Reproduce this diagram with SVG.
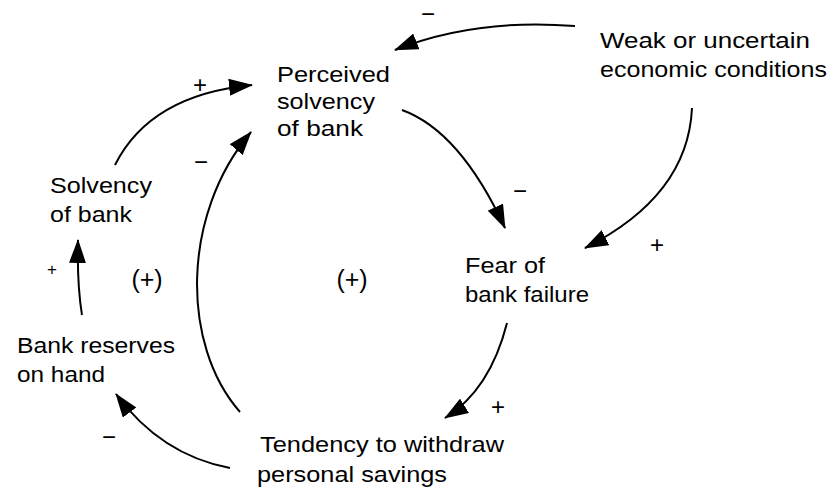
<svg xmlns="http://www.w3.org/2000/svg" width="840" height="490" viewBox="0 0 840 490">
<style>
.t{font-family:"Liberation Sans",Arial,sans-serif;font-size:22px;fill:#000}
.s{font-family:"Liberation Sans",Arial,sans-serif;font-size:24px;fill:#000;text-anchor:middle}
.p{font-family:"Liberation Sans",Arial,sans-serif;font-size:25px;fill:#000;text-anchor:middle}
.c{fill:none;stroke:#000;stroke-width:2;marker-end:url(#ah)}
</style>
<defs>
<marker id="ah" markerUnits="userSpaceOnUse" viewBox="0 0 24 17" refX="23" refY="8.5" markerWidth="24" markerHeight="17" orient="auto">
<path d="M0,0 L24,8.5 L0,17 z" fill="#000"/>
</marker>
</defs>
<rect width="840" height="490" fill="#fff"/>
<g id="connectors">
<path class="c" d="M575,26 Q475,18 395,50"/>
<path class="c" d="M402,110 Q460,131 505,228"/>
<path class="c" d="M692,108 Q688,196 585,248"/>
<path class="c" d="M115,165 Q150,95 252,85"/>
<path class="c" d="M240,412 C181,345 181,215 251,132"/>
<path class="c" d="M82,315 Q77,285 78,240"/>
<path class="c" d="M507,323 Q490,390 445,418"/>
<path class="c" d="M230,468 Q161,455 116,394"/>
</g>
<g id="signs">
<text class="s" x="428" y="22">−</text>
<text class="s" x="520" y="199">−</text>
<text class="s" x="657" y="253">+</text>
<text class="s" x="200" y="93">+</text>
<text class="s" x="201" y="170">−</text>
<text class="s" x="52" y="275" style="font-size:17px">+</text>
<text class="s" x="498" y="415">+</text>
<text class="s" x="109" y="445">−</text>
</g>
<g id="loop-left"><text class="p" x="147" y="288">(+)</text></g>
<g id="loop-right"><text class="p" x="352" y="288">(+)</text></g>
<g id="perceived">
<text class="t" x="277" y="82" textLength="113" lengthAdjust="spacingAndGlyphs">Perceived</text>
<text class="t" x="277" y="109" textLength="98" lengthAdjust="spacingAndGlyphs">solvency</text>
<text class="t" x="277" y="136" textLength="86" lengthAdjust="spacingAndGlyphs">of bank</text>
</g>
<g id="weak">
<text class="t" x="600" y="48" textLength="210" lengthAdjust="spacingAndGlyphs">Weak or uncertain</text>
<text class="t" x="600" y="77" textLength="227" lengthAdjust="spacingAndGlyphs">economic conditions</text>
</g>
<g id="solvency">
<text class="t" x="50" y="193" textLength="102" lengthAdjust="spacingAndGlyphs">Solvency</text>
<text class="t" x="50" y="222" textLength="82" lengthAdjust="spacingAndGlyphs">of bank</text>
</g>
<g id="fear">
<text class="t" x="465" y="273" textLength="80" lengthAdjust="spacingAndGlyphs">Fear of</text>
<text class="t" x="465" y="302" textLength="124" lengthAdjust="spacingAndGlyphs">bank failure</text>
</g>
<g id="reserves">
<text class="t" x="17" y="353" textLength="158" lengthAdjust="spacingAndGlyphs">Bank reserves</text>
<text class="t" x="17" y="382" textLength="88" lengthAdjust="spacingAndGlyphs">on hand</text>
</g>
<g id="tendency">
<text class="t" x="260" y="452" textLength="244" lengthAdjust="spacingAndGlyphs">Tendency to withdraw</text>
<text class="t" x="257" y="482" textLength="190" lengthAdjust="spacingAndGlyphs">personal savings</text>
</g>
</svg>
